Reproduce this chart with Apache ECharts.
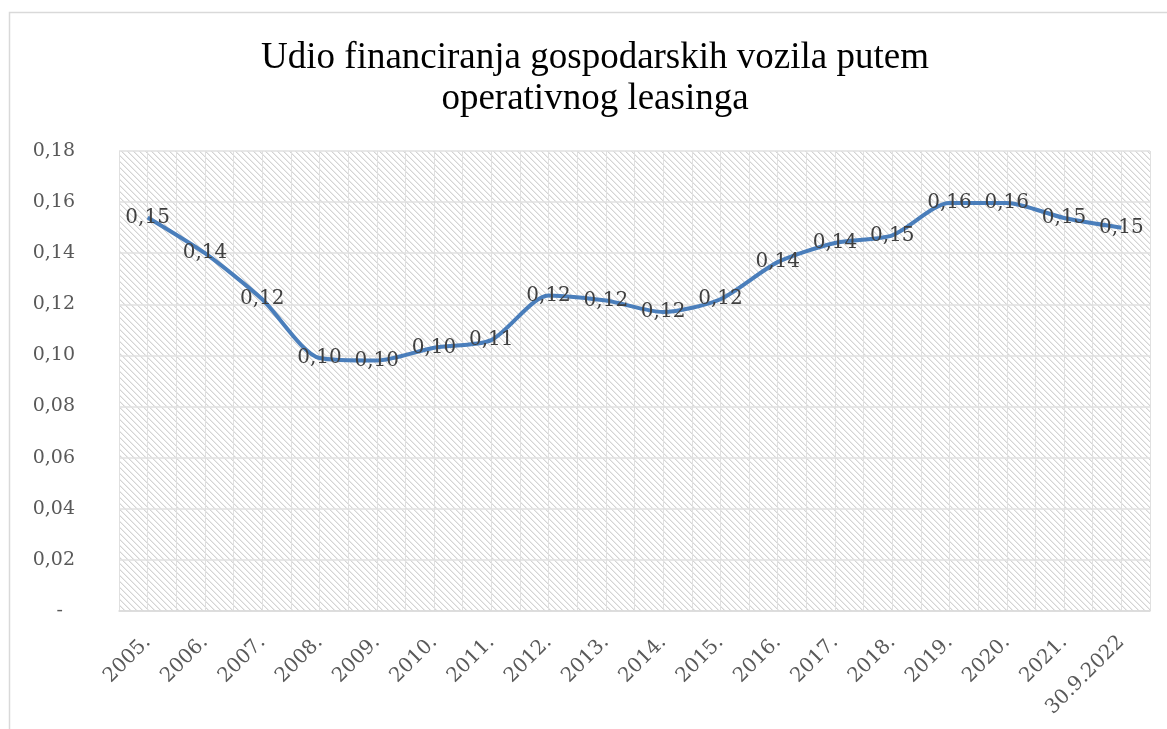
<!DOCTYPE html>
<html>
<head>
<meta charset="utf-8">
<script src="https://cdn.jsdelivr.net/npm/echarts@6/dist/echarts.min.js"></script>
<style>
  html, body { margin: 0; padding: 0; background: #fff; }
  #chart { width: 1167px; height: 729px; }
</style>
</head>
<body>
<div id="chart"></div>
<script>
// chart data
const years = ["2005.", "2006.", "2007.", "2008.", "2009.", "2010.", "2011.", "2012.", "2013.",
  "2014.", "2015.", "2016.", "2017.", "2018.", "2019.", "2020.", "2021.", "30.9.2022"];
const share = [0.154, 0.140, 0.122, 0.099, 0.098, 0.103, 0.106, 0.1235, 0.1215,
  0.117, 0.122, 0.1365, 0.144, 0.147, 0.1597, 0.1597, 0.1538, 0.150];
const yTicks = [0, 0.02, 0.04, 0.06, 0.08, 0.1, 0.12, 0.14, 0.16, 0.18];

const serif = "DejaVu Serif";

// hatch pattern for the plot area (downward diagonal)
const hatch = document.createElement("canvas");
hatch.width = 6;
hatch.height = 6;
const hctx = hatch.getContext("2d");
hctx.fillStyle = "#ffffff";
hctx.fillRect(0, 0, 6, 6);
for (let i = 0; i < 6; i++) {
  hctx.fillStyle = "#d4d4d4";
  hctx.fillRect(i, i, 1, 1);
  hctx.fillStyle = "#ececec";
  hctx.fillRect((i + 1) % 6, i, 1, 1);
}

const chart = echarts.init(document.getElementById("chart"));

chart.setOption({
  animation: false,
  backgroundColor: "#fff",
  title: {
    text: "Udio financiranja gospodarskih vozila putem\noperativnog leasinga",
    left: 595,
    top: 38,
    textAlign: "center",
    padding: 0,
    textStyle: {
      fontFamily: "Liberation Serif",
      fontWeight: "normal",
      fontSize: 37,
      lineHeight: 41,
      color: "#000",
    },
  },
  graphic: [
    {
      type: "rect",
      shape: { x: 9.5, y: 12.5, width: 1200, height: 800 },
      style: { fill: "none", stroke: "#d9d9d9", lineWidth: 1.5 },
      silent: true,
    },
  ],
  grid: {
    left: 119,
    right: 17,
    top: 151,
    bottom: 118,
    show: true,
    borderWidth: 0,
    backgroundColor: { image: hatch, repeat: "repeat" },
  },
  xAxis: [
    {
      type: "category",
      data: years,
      boundaryGap: true,
      axisTick: { show: false },
      axisLine: { lineStyle: { color: "#d9d9d9", width: 1.5 } },
      splitLine: { show: false },
      axisLabel: {
        rotate: 45,
        margin: 28,
        interval: 0,
        fontFamily: serif,
        fontSize: 20,
        color: "#595959",
      },
    },
    {
      // half-category vertical gridlines
      type: "value",
      position: "bottom",
      min: 0,
      max: years.length * 2,
      interval: 1,
      axisLine: { show: false },
      axisTick: { show: false },
      axisLabel: { show: false },
      splitLine: { show: true, lineStyle: { color: "#e0e0e0", width: 1 } },
    },
  ],
  yAxis: {
    type: "value",
    min: yTicks[0],
    max: yTicks[yTicks.length - 1],
    interval: 0.02,
    axisLine: { show: false },
    axisTick: { show: false },
    splitLine: { lineStyle: { color: "#e0e0e0", width: 1.5 } },
    axisLabel: {
      margin: 44,
      fontFamily: serif,
      fontSize: 19,
      color: "#595959",
      formatter: (v) => (Math.abs(v) < 1e-9 ? "-  " : v.toFixed(2).replace(".", ",")),
    },
  },
  series: [
    {
      type: "line",
      data: share,
      xAxisIndex: 0,
      smooth: 0.25,
      symbol: "circle",
      symbolSize: 1,
      showSymbol: true,
      itemStyle: { color: "rgba(0,0,0,0)" },
      lineStyle: { color: "#4a7ebb", width: 4 },
      label: {
        show: true,
        position: "inside",
        offset: [2, 3],
        fontFamily: serif,
        fontSize: 20,
        color: "#404040",
        formatter: (p) => p.value.toFixed(2).replace(".", ","),
      },
      labelLayout: { hideOverlap: false },
    },
  ],
});
</script>
</body>
</html>
